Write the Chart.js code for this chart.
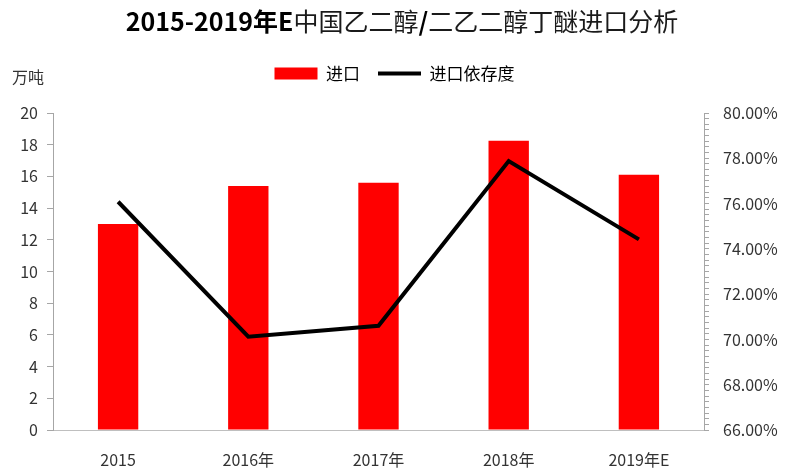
<!DOCTYPE html>
<html>
<head>
<meta charset="utf-8">
<script src="https://cdn.jsdelivr.net/npm/chart.js@4/dist/chart.umd.min.js"></script>
<style>
  body { margin: 0; background: #fff; }
</style>
</head>
<body>
<canvas id="chart" width="789" height="470"></canvas>
<script>
const years = ["2015", "2016年", "2017年", "2018年", "2019年E"];
const imports = [13.0, 15.4, 15.6, 18.25, 16.1];
const dependence = [76.08, 70.12, 70.6, 77.88, 74.42];
const leftTicks = [0, 2, 4, 6, 8, 10, 12, 14, 16, 18, 20];
const rightTicks = [66, 68, 70, 72, 74, 76, 78, 80];
// title pieces: [text, bold]
const titleParts = [
  ["2015-2019年E", true],
  ["中国乙二醇", false],
  ["/", true],
  ["二乙二醇丁醚进口分析", false],
];

const FONT = "'Noto Sans CJK SC', 'Noto Sans', sans-serif";

// title with mixed weights, and the unit above the left axis
const textBits = {
  id: "textBits",
  afterDraw(chart) {
    const ctx = chart.ctx;
    ctx.save();
    ctx.textBaseline = "middle";
    ctx.fillStyle = "#000";
    const fontOf = (b) => (b ? "bold " : "") + "25px " + FONT;
    let total = 0;
    titleParts.forEach(([t, b]) => { ctx.font = fontOf(b); total += ctx.measureText(t).width; });
    let x = 402 - total / 2;
    titleParts.forEach(([t, b]) => {
      ctx.font = fontOf(b);
      ctx.fillStyle = b ? "#000" : "#1a1a1a";
      ctx.fillText(t, x, 21);
      x += ctx.measureText(t).width;
    });
    ctx.fillStyle = "#333";
    ctx.font = "16px " + FONT;
    ctx.fillText("万吨", 12, 77);
    ctx.restore();
  },
};

// extra room under the legend
const legendMargin = {
  id: "legendMargin",
  beforeInit(chart) {
    const fit = chart.legend.fit;
    chart.legend.fit = function () {
      fit.bind(chart.legend)();
      this.height += 21;
    };
  },
};

const ctx = document.getElementById("chart").getContext("2d");
new Chart(ctx, {
  data: {
    labels: years,
    datasets: [
      {
        type: "line",
        label: "进口依存度",
        data: dependence,
        yAxisID: "y1",
        borderColor: "#000",
        backgroundColor: "#000",
        borderWidth: 4,
        pointRadius: 0,
        tension: 0,
        pointStyle: "line",
        order: 0,
      },
      {
        type: "bar",
        label: "进口",
        data: imports,
        yAxisID: "y",
        backgroundColor: "#ff0000",
        barPercentage: 0.31,
        categoryPercentage: 1,
        pointStyle: "rect",
        order: 1,
      },
    ],
  },
  options: {
    responsive: false,
    animation: false,
    devicePixelRatio: 1,
    layout: { padding: { left: 0, right: 0, top: 47, bottom: 0 } },
    plugins: {
      title: { display: false },
      legend: {
        reverse: true,
        labels: {
          usePointStyle: true,
          pointStyleWidth: 43,
          boxHeight: 12,
          color: "#000",
          font: { family: FONT, size: 17 },
          padding: 18,
        },
      },
      tooltip: { enabled: false },
    },
    scales: {
      x: {
        grid: { display: false, drawTicks: false },
        border: { color: "#bfbfbf" },
        ticks: { color: "#333", font: { family: FONT, size: 16 }, padding: 20, maxRotation: 0 },
        afterFit(scale) { scale.height = 40; },
      },
      y: {
        position: "left",
        min: 0,
        max: 20,
        afterBuildTicks(scale) { scale.ticks = leftTicks.map((v) => ({ value: v })); },
        grid: { drawOnChartArea: false, tickLength: 6, color: "#a6a6a6" },
        border: { color: "#a6a6a6" },
        ticks: { color: "#333", font: { family: FONT, size: 16 }, padding: 9 },
        afterFit(scale) { scale.width = 53; },
      },
      y1: {
        position: "right",
        min: 66,
        max: 80,
        afterBuildTicks(scale) {
          const t = [];
          for (let v = 66; v <= 80.001; v += 0.25) t.push({ value: Math.round(v * 100) / 100 });
          scale.ticks = t;
        },
        grid: { drawOnChartArea: false, tickLength: 5, color: "#a6a6a6" },
        border: { color: "#a6a6a6" },
        ticks: {
          color: "#333",
          font: { family: FONT, size: 16 },
          padding: 14,
          autoSkip: false,
          callback: (v) => (rightTicks.includes(v) ? v.toFixed(2) + "%" : ""),
        },
        afterFit(scale) { scale.width = 85; },
      },
    },
  },
  plugins: [textBits, legendMargin],
});
</script>
</body>
</html>
